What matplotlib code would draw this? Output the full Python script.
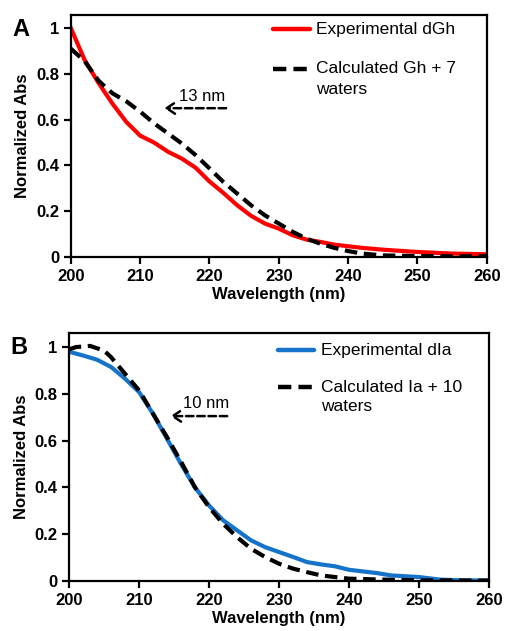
import matplotlib.pyplot as plt
import numpy as np

plt.rcParams['font.family'] = ['Liberation Sans', 'DejaVu Sans']

####################################################################################
# data
wl_a = [200, 202, 204, 206, 208, 210, 212, 214, 216, 218, 220, 222, 224, 226, 228,
        230, 232, 234, 236, 238, 240, 242, 245, 250, 255, 260]
exp_a = [1.0, 0.86, 0.76, 0.67, 0.59, 0.53, 0.50, 0.46, 0.43, 0.39, 0.33, 0.28, 0.226,
         0.18, 0.146, 0.124, 0.095, 0.076, 0.066, 0.054, 0.047, 0.040, 0.032, 0.022,
         0.015, 0.012]
calc_a = [0.91, 0.855, 0.77, 0.715, 0.68, 0.635, 0.584, 0.54, 0.496, 0.445, 0.387, 0.328,
          0.277, 0.226, 0.182, 0.146, 0.11, 0.08, 0.058, 0.04, 0.026, 0.015, 0.007,
          0.004, 0.003, 0.003]

wl_b_exp = [200, 202, 204, 206, 208, 210, 212, 214, 216, 218, 220, 222, 224, 226, 228,
            230, 232, 234, 236, 238, 240, 242, 244, 246, 250, 253, 256, 260]
exp_b = [0.98, 0.964, 0.946, 0.915, 0.865, 0.808, 0.715, 0.608, 0.50, 0.40, 0.323, 0.26,
         0.217, 0.174, 0.145, 0.124, 0.103, 0.081, 0.071, 0.063, 0.048, 0.041, 0.034,
         0.024, 0.017, 0.006, 0.003, 0.002]
wl_b_calc = [200, 201, 203, 205, 206, 208, 210, 212, 214, 216, 218, 220, 222, 224, 226,
             228, 230, 232, 234, 236, 238, 240, 245, 250, 260]
calc_b = [0.99, 1.0, 1.005, 0.985, 0.957, 0.886, 0.815, 0.715, 0.615, 0.51, 0.40, 0.316,
          0.245, 0.188, 0.138, 0.103, 0.074, 0.053, 0.038, 0.024, 0.017, 0.01, 0.006,
          0.003, 0.002]

labels_a = ['Experimental dGh', 'Calculated Gh + 7', 'waters']
labels_b = ['Experimental dIa', 'Calculated Ia + 10', 'waters']

red = '#FF0000'
blue = '#1573C9'
dash = (0, (3, 1.6))

fig = plt.figure(figsize=(5.06, 6.31), dpi=100)
ax_a = fig.add_axes([0.140, 0.5927, 0.822, 0.3835])
ax_b = fig.add_axes([0.1364, 0.0792, 0.830, 0.393])


def style_axis(ax, ytop):
    ax.set_xlim(200, 260)
    ax.set_ylim(0, ytop)
    ax.set_xticks(np.arange(200, 261, 10))
    ax.set_yticks([0, 0.2, 0.4, 0.6, 0.8, 1])
    ax.set_yticklabels(['0', '0.2', '0.4', '0.6', '0.8', '1'])
    for sp in ax.spines.values():
        sp.set_linewidth(1.6)
    ax.tick_params(axis='both', direction='out', length=5, width=1.6, labelsize=12)
    for lab in ax.get_xticklabels() + ax.get_yticklabels():
        lab.set_fontweight('bold')
    ax.set_xlabel('Wavelength (nm)', fontsize=12, fontweight='bold', labelpad=2)
    ax.set_ylabel('Normalized Abs', fontsize=12, fontweight='bold', labelpad=4)


def shift_arrow(ax, x0, x1, y, label, tx, ty):
    ax.annotate('', xy=(x1, y), xytext=(x0, y),
                arrowprops=dict(arrowstyle='->,head_length=0.6,head_width=0.4',
                                color='black', lw=1.8, linestyle=(0, (3, 1.5))))
    ax.text(tx, ty, label, fontsize=12, ha='center', va='center')


def key(ax, colors, labels, hx0, hx1, tx, ys):
    """legend drawn by hand so the dashed key sits on the first text line"""
    styles = ['-', dash]
    for c, ls, y in zip(colors, styles, ys[:2]):
        ax.plot([hx0, hx1], [y, y], transform=ax.transAxes, color=c, lw=3.2,
                linestyle=ls, clip_on=False, solid_capstyle='round')
    for lab, y in zip(labels, ys):
        ax.text(tx, y, lab, transform=ax.transAxes, fontsize=12.5,
                ha='left', va='center')


# panel A
ax_a.plot(wl_a, exp_a, color=red, lw=3)
ax_a.plot(wl_a, calc_a, color='black', lw=3, linestyle=dash)
style_axis(ax_a, 1.057)
shift_arrow(ax_a, 222.8, 213.1, 0.65, '13 nm', 218.9, 0.70)
key(ax_a, [red, 'black'], labels_a, 0.487, 0.576, 0.589, [0.942, 0.777, 0.694])
fig.text(0.024, 0.953, 'A', fontsize=17, fontweight='bold', va='center')

# panel B
ax_b.plot(wl_b_exp, exp_b, color=blue, lw=3)
ax_b.plot(wl_b_calc, calc_b, color='black', lw=3, linestyle=dash)
style_axis(ax_b, 1.06)
shift_arrow(ax_b, 223.0, 214.1, 0.705, '10 nm', 219.6, 0.76)
key(ax_b, [blue, 'black'], labels_b, 0.498, 0.583, 0.600, [0.931, 0.782, 0.702])
fig.text(0.02, 0.45, 'B', fontsize=17, fontweight='bold', va='center')

fig.savefig('out.png', dpi=100)
